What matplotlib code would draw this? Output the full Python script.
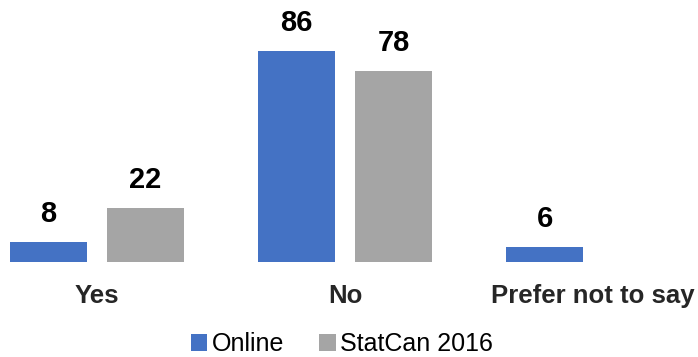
import matplotlib.pyplot as plt
import numpy as np

plt.rcParams['font.family'] = ['Liberation Sans', 'DejaVu Sans']

categories = ["Yes", "No", "Prefer not to say"]
online = [8, 86, 6]
statcan = [22, 78, None]
series_names = ["Online", "StatCan 2016"]
colors = ["#4472C4", "#A5A5A5"]

fig = plt.figure(figsize=(6.98, 3.57), dpi=100)
ax = fig.add_axes([0, 95 / 357, 1, 262 / 357])

x = np.arange(len(categories))
w = 77 / 248
off = 48.5 / 248

for vals, dx, c, name in [(online, -off, colors[0], series_names[0]),
                          (statcan, off, colors[1], series_names[1])]:
    xs = [xi + dx for xi, v in zip(x, vals) if v is not None]
    ys = [v for v in vals if v is not None]
    bars = ax.bar(xs, ys, width=w, color=c, label=name)
    for b, v in zip(bars, ys):
        ax.annotate(str(v), (b.get_x() + b.get_width() / 2, v),
                    xytext=(0, 14.5), textcoords="offset points",
                    ha="center", va="baseline", fontsize=21, fontweight="bold")

ax.set_xlim(-97 / 248, 601 / 248)
ax.set_ylim(0, 262 / 2.45)
ax.set_xticks(x)
ax.set_xticklabels(categories, fontsize=18.5, fontweight="bold", color="#262626")
ax.tick_params(axis="x", length=0, pad=15.5)
ax.set_yticks([])
for s in ax.spines.values():
    s.set_visible(False)

fig.legend(loc="center", bbox_to_anchor=(342 / 698, 1 - 344 / 357), ncol=2,
           frameon=False, fontsize=18, handlelength=0.65, handleheight=0.65,
           handletextpad=0.2, columnspacing=1.4, borderpad=0, borderaxespad=0)

fig.savefig("out.png", dpi=100)
